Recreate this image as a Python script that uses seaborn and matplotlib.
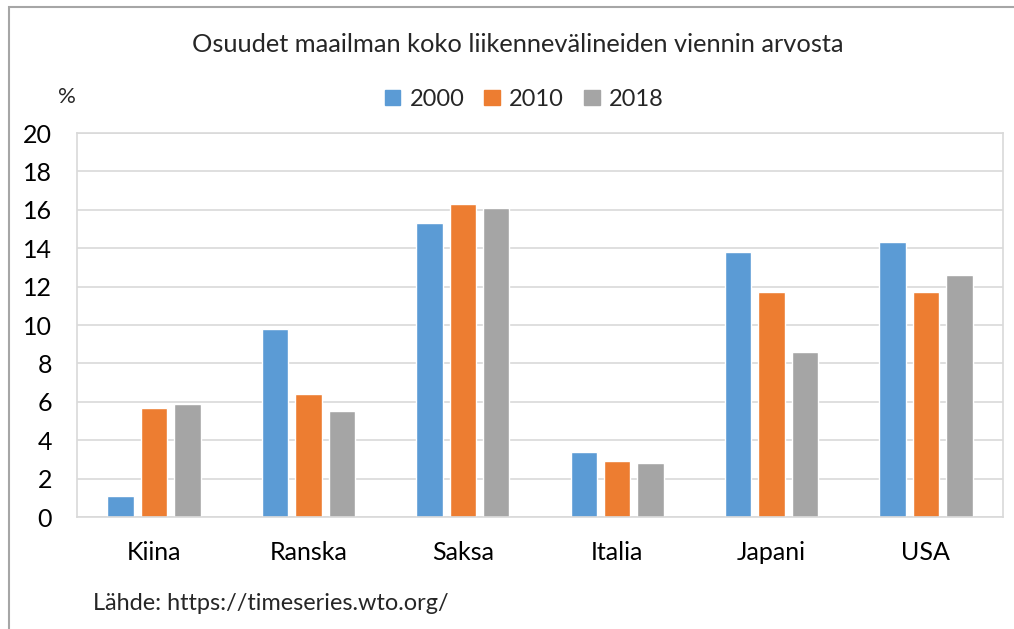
import matplotlib.pyplot as plt
import matplotlib.patches as mpatches
import pandas as pd
import seaborn as sns

# osuudet (%) maailman liikennevälineiden viennistä
maat = ["Kiina", "Ranska", "Saksa", "Italia", "Japani", "USA"]
vuodet = ["2000", "2010", "2018"]
osuus_2000 = [1.1, 9.8, 15.3, 3.4, 13.8, 14.3]
osuus_2010 = [5.7, 6.4, 16.3, 2.9, 11.7, 11.7]
osuus_2018 = [5.9, 5.5, 16.1, 2.8, 8.6, 12.6]
y_ticks = [0, 2, 4, 6, 8, 10, 12, 14, 16, 18, 20]

colors = ["#5B9BD5", "#ED7D31", "#A5A5A5"]


def make_frame():
    rows = []
    for vuosi, arvot in zip(vuodet, [osuus_2000, osuus_2010, osuus_2018]):
        for maa, arvo in zip(maat, arvot):
            rows.append({"maa": maa, "vuosi": vuosi, "osuus": arvo})
    return pd.DataFrame(rows)


sns.set_style("white")
plt.rcParams["font.family"] = ["Lato", "DejaVu Sans"]

df = make_frame()
fig = plt.figure(figsize=(10.14, 6.29), dpi=100)
ax = fig.add_axes([0.0759, 0.178, 0.9133, 0.6105])

sns.barplot(data=df, x="maa", y="osuus", hue="vuosi", order=maat,
            hue_order=vuodet, palette=colors, width=0.65, gap=0.21,
            saturation=1, errorbar=None, ax=ax)

ax.set_ylim(0, 20)
ax.set_xlim(-0.5, len(maat) - 0.5)
ax.set_yticks(y_ticks)
ax.grid(True, axis="y", color="#d9d9d9", linewidth=1.2)
ax.set_axisbelow(True)
for s in ax.spines.values():
    s.set_visible(True)
    s.set_color("#d9d9d9")
    s.set_linewidth(1.2)
ax.tick_params(axis="both", length=0, labelsize=18, colors="black")
ax.tick_params(axis="y", pad=18)
ax.tick_params(axis="x", pad=17)
ax.set_xlabel("")
ax.set_ylabel("")

handles = [mpatches.Patch(color=c, label=v) for c, v in zip(colors, vuodet)]
ax.legend(handles=handles, ncol=3, frameon=False, fontsize=17,
          loc="center", bbox_to_anchor=(0.517, 0.842), bbox_transform=fig.transFigure,
          handlelength=0.65, handleheight=0.65, handletextpad=0.4, columnspacing=0.85)

fig.text(0.511, 0.93, "Osuudet maailman koko liikennevälineiden viennin arvosta",
         ha="center", va="center", fontsize=18.3)
fig.text(0.066, 0.845, "%", ha="center", va="center", fontsize=16)
fig.text(0.092, 0.04, "Lähde: https://timeseries.wto.org/", ha="left",
         va="center", fontsize=16.9)

fig.patches.append(mpatches.Rectangle((0.009, -0.1), 1.1, 1.089,
                                      transform=fig.transFigure, fill=False,
                                      edgecolor="#a6a6a6", linewidth=1.5))

fig.savefig("out.png", dpi=100, facecolor="white")
